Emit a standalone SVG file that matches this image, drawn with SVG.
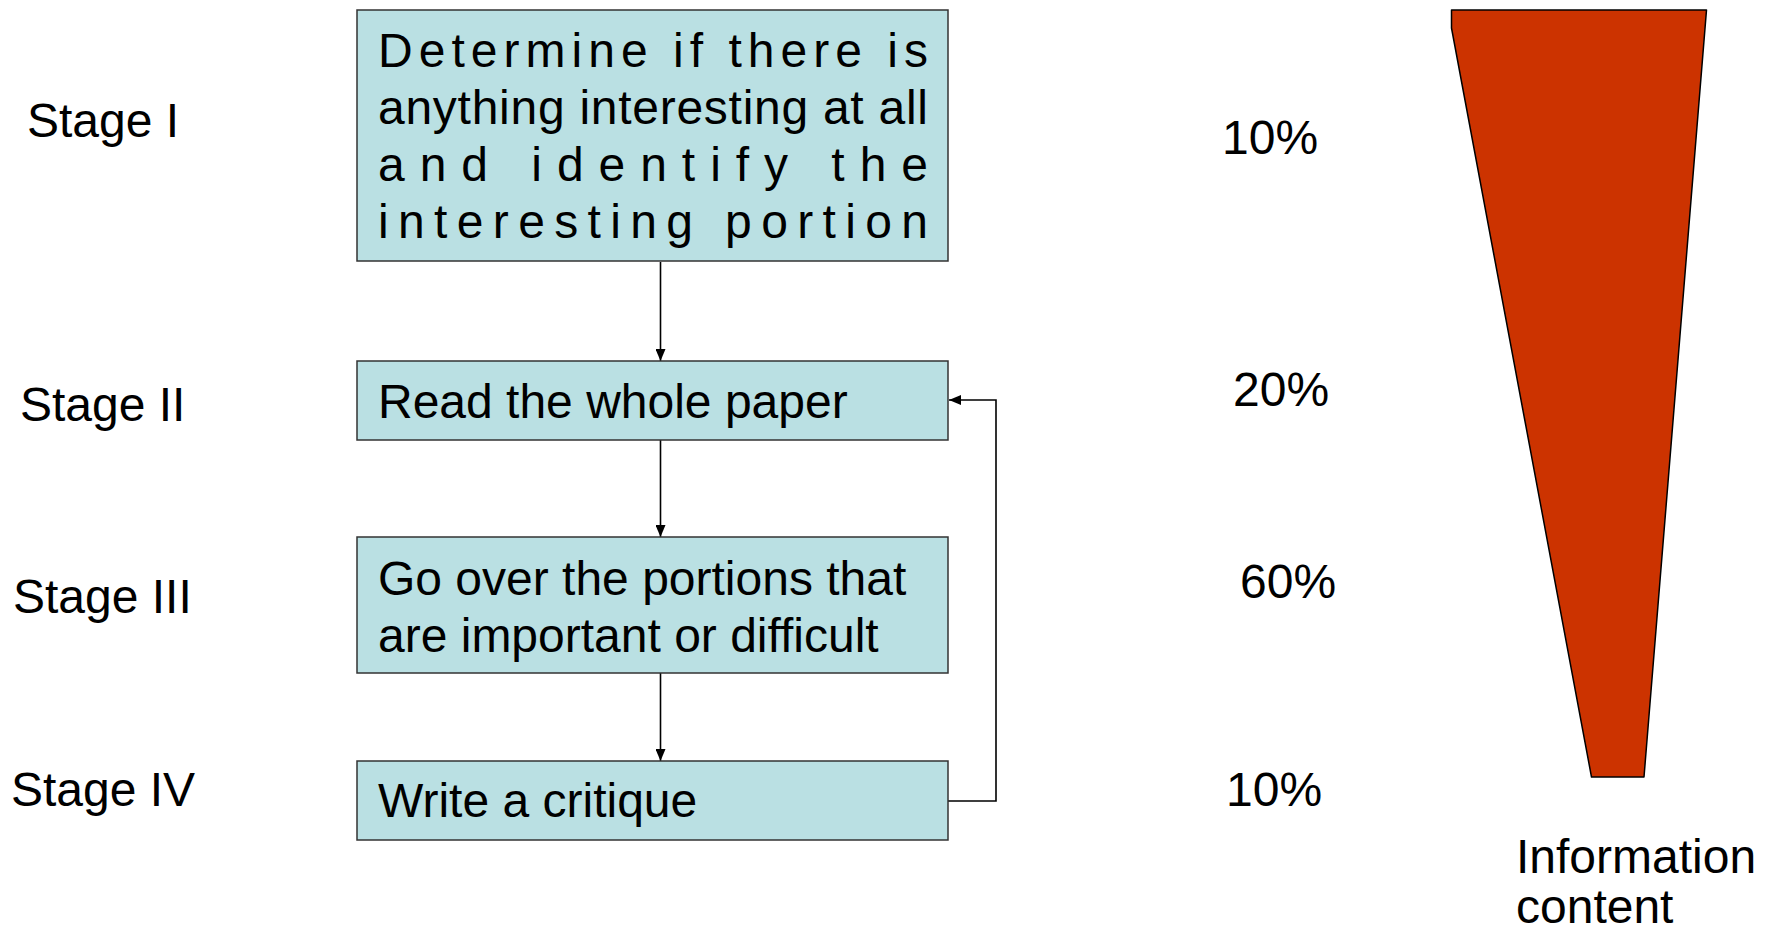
<svg xmlns="http://www.w3.org/2000/svg" width="1770" height="934" viewBox="0 0 1770 934">
<style>
.box{fill:#BAE0E3;stroke:#333;stroke-width:1.5}
.t{font-family:"Liberation Sans",Arial,sans-serif;font-size:48px;fill:#000}
.c{fill:none;stroke:#000;stroke-width:1.6}
</style>
<defs>
<marker id="ah" viewBox="0 0 12 10" refX="12" refY="5" markerWidth="12" markerHeight="10" markerUnits="userSpaceOnUse" orient="auto">
<path d="M0,0 L12,5 L0,10 z" fill="#000"/>
</marker>
</defs>
<rect width="1770" height="934" fill="#fff"/>
<g id="labels">
<text class="t" x="27" y="137">Stage I</text>
<text class="t" x="20" y="421">Stage II</text>
<text class="t" x="13" y="613">Stage III</text>
<text class="t" x="11" y="806">Stage IV</text>
<text class="t" x="1222" y="154">10%</text>
<text class="t" x="1233" y="406">20%</text>
<text class="t" x="1240" y="598">60%</text>
<text class="t" x="1226" y="806">10%</text>
</g>
<g id="connectors">
<line class="c" x1="660.5" y1="262" x2="660.5" y2="361" marker-end="url(#ah)"/>
<line class="c" x1="660.5" y1="440" x2="660.5" y2="537" marker-end="url(#ah)"/>
<line class="c" x1="660.5" y1="665" x2="660.5" y2="761" marker-end="url(#ah)"/>
<polyline class="c" points="948,801 996,801 996,400 949,400" marker-end="url(#ah)"/>
</g>
<g id="stage1">
<rect class="box" x="357" y="10" width="591" height="251"/>
<text class="t" x="378" y="67" textLength="550" lengthAdjust="spacing">Determine if there is</text>
<text class="t" x="378" y="124" textLength="550" lengthAdjust="spacing">anything interesting at all</text>
<text class="t" x="378" y="181" textLength="550" lengthAdjust="spacing">and identify the</text>
<text class="t" x="378" y="238" textLength="550" lengthAdjust="spacing">interesting portion</text>
</g>
<g id="stage2">
<rect class="box" x="357" y="361" width="591" height="79"/>
<text class="t" x="378" y="418">Read the whole paper</text>
</g>
<g id="stage3">
<rect class="box" x="357" y="537" width="591" height="136"/>
<text class="t" x="378" y="595">Go over the portions that</text>
<text class="t" x="378" y="652">are important or difficult</text>
</g>
<g id="stage4">
<rect class="box" x="357" y="761" width="591" height="79"/>
<text class="t" x="378" y="817">Write a critique</text>
</g>
<g id="funnel">
<polygon points="1451.5,10 1706.5,10 1644,777 1591.5,777 1451.5,28" fill="#CC3300" stroke="#000" stroke-width="1.5" stroke-linejoin="round"/>
<text class="t" x="1516" y="873">Information</text>
<text class="t" x="1516" y="923">content</text>
</g>
</svg>
